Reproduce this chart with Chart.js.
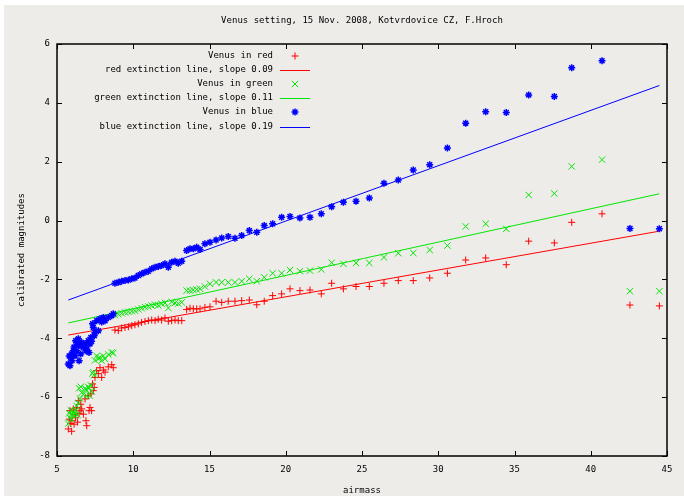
<!DOCTYPE html>
<html><head><meta charset="utf-8">
<script src="https://cdn.jsdelivr.net/npm/chart.js@4.4.1/dist/chart.umd.min.js"></script>
<style>
html,body{margin:0;padding:0;background:#fff;}
#wrap{position:absolute;left:4px;top:5px;width:680px;height:491px;background:#edece9;}
canvas{display:block;}
</style></head><body>
<div id="wrap"><canvas id="c" width="680" height="491"></canvas></div>
<script>
const airmass = [
  5.74,5.80,5.85,5.90,5.96,5.98,6.07,6.12,6.18,6.22,6.29,6.35,6.40,6.45,6.51,6.56,6.62,6.73,6.84,6.90,6.95,7.05,7.10,7.16,7.22,7.27,
  7.33,7.38,7.44,7.49,7.60,7.71,7.82,7.93,8.04,8.15,8.36,8.59,8.69,
  8.80,9.02,9.24,9.46,9.68,9.90,10.11,10.33,10.55,10.77,10.99,11.21,11.43,11.64,11.86,12.08,12.30,12.52,12.74,12.95,13.18,
  13.50,13.72,13.94,14.16,14.38,14.70,15.03,15.43,15.80,16.23,16.67,17.11,17.61,18.10,18.59,19.14,19.73,20.28,20.93,21.59,22.33,
  23.01,23.78,24.61,25.48,26.44,27.38,28.36,29.44,30.60,31.80,33.11,34.46,35.93,37.61,38.75,40.74,42.57,44.50
];
const blueMag = [
  -4.87,-4.60,-4.93,-4.65,-4.53,-4.76,-4.42,-4.30,-4.59,-4.08,-4.42,-4.20,-4.02,-4.76,-4.25,-4.53,-4.14,-4.31,-4.19,-4.42,-4.36,-4.08,-4.48,-4.19,-3.97,-4.10,
  -3.51,-3.63,-3.91,-3.80,-3.40,-3.74,-3.34,-3.45,-3.29,-3.40,-3.29,-3.23,-3.17,
  -2.13,-2.10,-2.06,-2.04,-2.02,-1.98,-1.95,-1.87,-1.81,-1.76,-1.72,-1.64,-1.59,-1.56,-1.53,-1.47,-1.59,-1.42,-1.38,-1.45,-1.38,
  -1.02,-0.96,-0.96,-0.91,-0.98,-0.79,-0.74,-0.66,-0.59,-0.54,-0.60,-0.51,-0.34,-0.40,-0.17,-0.11,0.11,0.14,0.09,0.11,0.23,
  0.47,0.62,0.66,0.77,1.27,1.38,1.72,1.90,2.47,3.31,3.70,3.67,4.27,4.22,5.19,5.43,-0.27,-0.28
];
const greenMag = [
  -6.90,-6.55,-6.70,-6.45,-6.60,-6.75,-6.50,-6.62,-6.55,-6.45,-6.30,-6.60,-6.20,-5.70,-6.05,-5.65,-5.85,-5.90,-5.70,-5.75,-5.95,-5.65,-5.70,-5.95,-5.60,-5.80,
  -5.20,-5.15,-5.25,-4.75,-4.60,-4.70,-4.65,-4.76,-4.60,-4.70,-4.55,-4.48,-4.50,
  -3.22,-3.18,-3.15,-3.12,-3.10,-3.08,-3.06,-3.02,-2.98,-2.94,-2.92,-2.89,-2.86,-2.88,-2.83,-2.80,-2.97,-2.76,-2.80,-2.82,-2.78,
  -2.38,-2.38,-2.36,-2.34,-2.32,-2.24,-2.15,-2.10,-2.10,-2.10,-2.10,-2.06,-1.98,-2.06,-1.93,-1.79,-1.79,-1.68,-1.72,-1.70,-1.66,
  -1.43,-1.47,-1.44,-1.44,-1.25,-1.11,-1.10,-1.00,-0.85,-0.20,-0.11,-0.28,0.87,0.92,1.84,2.07,-2.40,-2.40
];
const redMag = [
  -7.08,-6.75,-6.46,-6.90,-7.16,-6.80,-6.40,-6.92,-6.60,-6.70,-6.35,-6.85,-6.12,-6.55,-6.46,-6.24,-6.40,-6.58,-6.06,-6.80,-6.97,-5.95,-6.46,-6.35,-5.89,-6.46,
  -5.55,-5.78,-5.67,-5.33,-5.10,-5.20,-5.00,-5.33,-5.08,-5.15,-4.97,-4.90,-5.00,
  -3.72,-3.74,-3.65,-3.63,-3.61,-3.57,-3.54,-3.51,-3.46,-3.43,-3.40,-3.38,-3.40,-3.35,-3.38,-3.31,-3.42,-3.40,-3.38,-3.40,-3.40,
  -3.02,-2.98,-3.00,-3.00,-3.00,-2.95,-2.93,-2.74,-2.78,-2.74,-2.74,-2.72,-2.70,-2.86,-2.74,-2.55,-2.49,-2.32,-2.38,-2.36,-2.49,
  -2.13,-2.32,-2.24,-2.24,-2.13,-2.04,-2.04,-1.95,-1.79,-1.34,-1.27,-1.50,-0.70,-0.76,-0.06,0.23,-2.87,-2.90
];
const fitX = [5.74, 44.5];
const redFit = [-3.89, -0.36];
const greenFit = [-3.48, 0.91];
const blueFit = [-2.70, 4.59];
const xTicks = [5,10,15,20,25,30,35,40,45];
const yTicks = [-8,-6,-4,-2,0,2,4,6];
const titleText = 'Venus setting, 15 Nov. 2008, Kotvrdovice CZ, F.Hroch';
const legendLabels = ['Venus in red','red extinction line, slope 0.09','Venus in green','green extinction line, slope 0.11','Venus in blue','blue extinction line, slope 0.19'];

const RED='#ff0000', GREEN='#00e600', BLUE='#0000ff';
const FONT='"DejaVu Sans Mono", "Liberation Mono", monospace';
const FS=9;
const pts = (ys)=>airmass.map((x,i)=>({x:x,y:ys[i]}));
const fit = (ys)=>fitX.map((x,i)=>({x:x,y:ys[i]}));

const datasets = [
  {label:legendLabels[0], data:pts(redMag), showLine:false, pointStyle:'cross', pointRadius:3.5, borderColor:RED, backgroundColor:RED, borderWidth:1, order:5},
  {label:legendLabels[1], data:fit(redFit), showLine:true, pointRadius:0, borderColor:RED, borderWidth:1, order:4},
  {label:legendLabels[2], data:pts(greenMag), showLine:false, pointStyle:'crossRot', pointRadius:4.5, borderColor:GREEN, backgroundColor:GREEN, borderWidth:1, order:3},
  {label:legendLabels[3], data:fit(greenFit), showLine:true, pointRadius:0, borderColor:GREEN, borderWidth:1, order:2},
  {label:legendLabels[4], data:pts(blueMag), showLine:false, pointStyle:'star', pointRadius:3.5, borderColor:BLUE, backgroundColor:BLUE, borderWidth:1.5, order:1},
  {label:legendLabels[5], data:fit(blueFit), showLine:true, pointRadius:0, borderColor:BLUE, borderWidth:1, order:0}
];

const decor = {
  id:'decor',
  afterDatasetsDraw(chart){
    const ctx=chart.ctx, a=chart.chartArea, xs=chart.scales.x, ys=chart.scales.y;
    ctx.save();
    ctx.strokeStyle='#000'; ctx.lineWidth=1;
    const T=5;
    ctx.beginPath();
    xTicks.forEach(v=>{const p=Math.round(xs.getPixelForValue(v))+0.5;
      ctx.moveTo(p,a.bottom); ctx.lineTo(p,a.bottom-T);
      ctx.moveTo(p,a.top); ctx.lineTo(p,a.top+T);});
    yTicks.forEach(v=>{const p=Math.round(ys.getPixelForValue(v))+0.5;
      ctx.moveTo(a.left,p); ctx.lineTo(a.left+T,p);
      ctx.moveTo(a.right,p); ctx.lineTo(a.right-T,p);});
    ctx.stroke();
    ctx.lineWidth=1.5;
    ctx.strokeRect(a.left,a.top,a.right-a.left,a.bottom-a.top);
    // title
    ctx.fillStyle='#000'; ctx.font=FS+'px '+FONT; ctx.textAlign='center'; ctx.textBaseline='middle';
    ctx.fillText(titleText, (a.left+a.right)/2, 16);
    // legend
    const rows=[51,65,79,93,107,122];
    ctx.textAlign='right';
    chart.data.datasets.forEach((d,i)=>{
      const y=rows[i];
      ctx.fillStyle='#000';
      ctx.fillText(d.label, 269, y);
      ctx.strokeStyle=d.borderColor; ctx.fillStyle=d.borderColor;
      if(d.showLine){
        ctx.lineWidth=1; ctx.beginPath(); ctx.moveTo(276,y+0.5); ctx.lineTo(306,y+0.5); ctx.stroke();
      } else {
        ctx.lineWidth=d.borderWidth;
        Chart.helpers.drawPoint(ctx,{pointStyle:d.pointStyle,radius:d.pointRadius,borderWidth:d.borderWidth,rotation:0},291,y);
      }
    });
    ctx.restore();
  }
};

new Chart(document.getElementById('c'),{
  type:'scatter',
  data:{datasets:datasets},
  options:{
    responsive:false, animation:false, devicePixelRatio:1,
    layout:{padding:{top:39,right:17,left:0,bottom:0}},
    plugins:{legend:{display:false}, tooltip:{enabled:false}, title:{display:false}},
    scales:{
      x:{type:'linear', min:5, max:45,
        afterFit(s){s.height=40;},
        afterBuildTicks(s){s.ticks=xTicks.map(v=>({value:v}));},
        ticks:{color:'#000', font:{family:FONT,size:FS}, padding:8, maxRotation:0},
        grid:{display:false, drawTicks:false}, border:{display:false},
        title:{display:true, text:'airmass', color:'#000', font:{family:FONT,size:FS}, padding:{top:0,bottom:0}}},
      y:{type:'linear', min:-8, max:6,
        afterFit(s){s.width=53;},
        afterBuildTicks(s){s.ticks=yTicks.map(v=>({value:v}));},
        ticks:{color:'#000', font:{family:FONT,size:FS}, padding:7},
        grid:{display:false, drawTicks:false}, border:{display:false},
        title:{display:true, text:'calibrated magnitudes', color:'#000', font:{family:FONT,size:FS}, padding:{top:12,bottom:0}}}
    }
  },
  plugins:[decor]
});
</script>
</body></html>
